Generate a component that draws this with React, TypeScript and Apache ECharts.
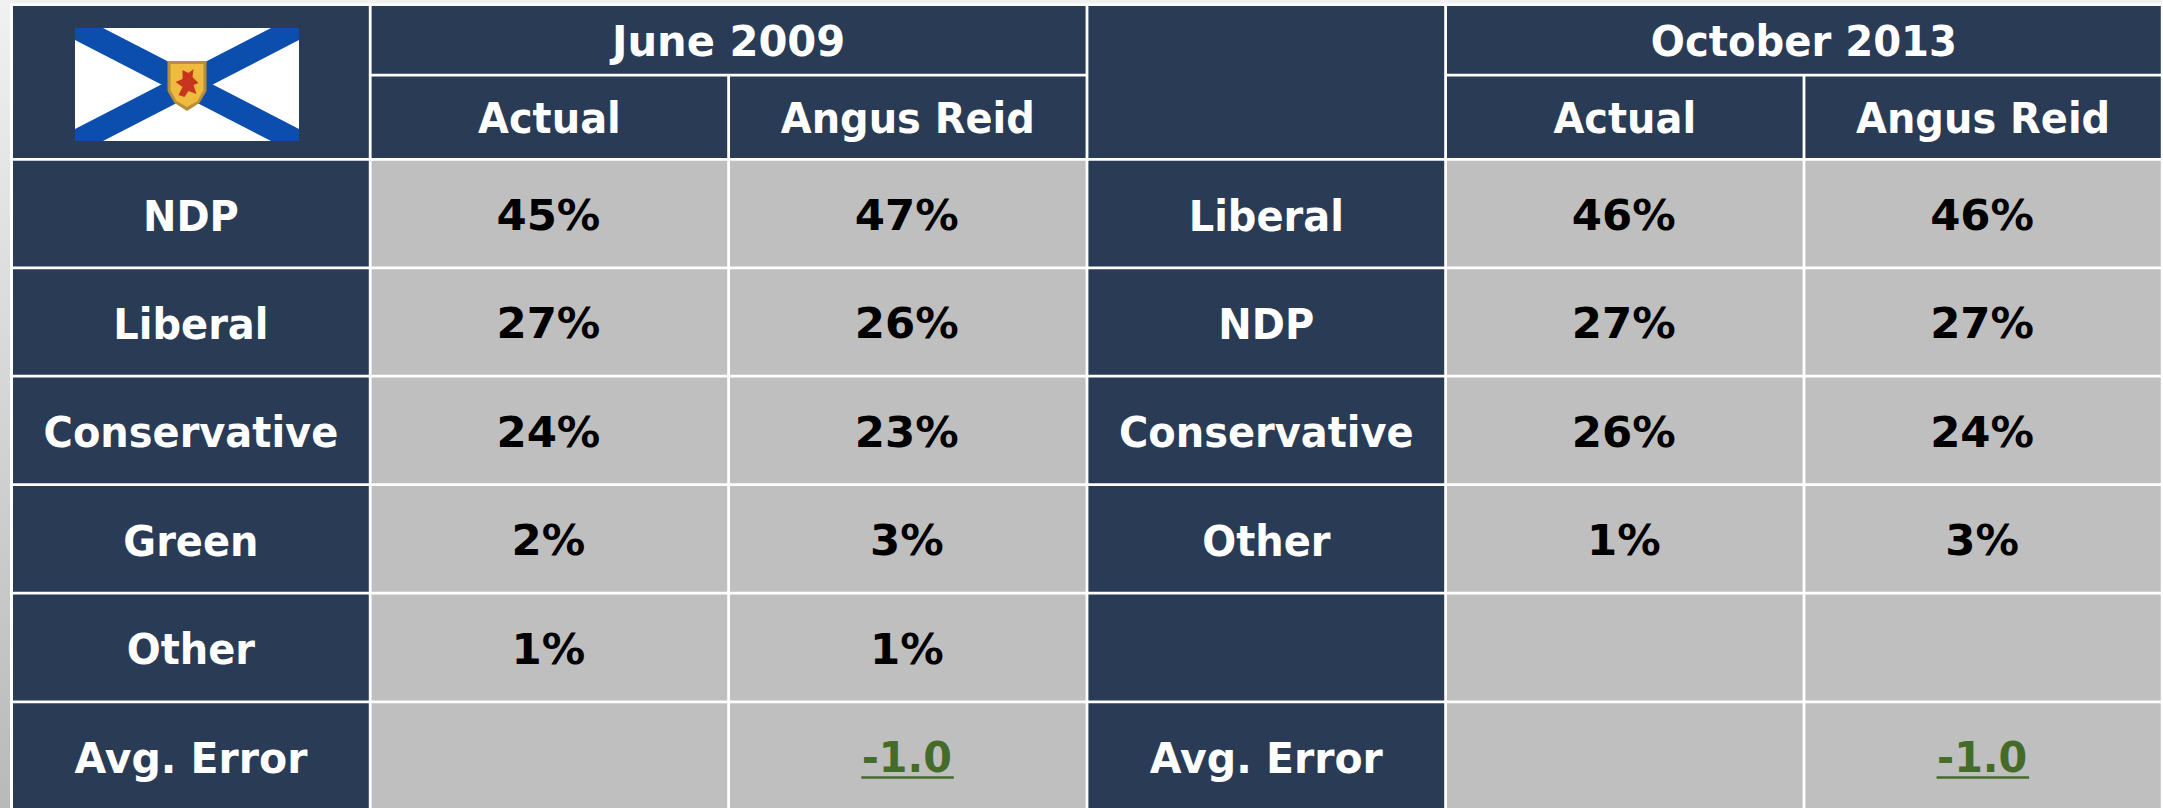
import React, { useEffect, useRef } from "react";
import * as echarts from "echarts";

const columnEdges = [13, 371.6, 730, 1088.4, 1447, 1805.4, 2163.6];
const rowEdges = [6, 76.6, 160.8, 269.2, 377.6, 486, 594.6, 703.2, 811.6];
const W = 2163, H = 808;
const HEAD = "#293b55", GREY = "#bfbfbf", GREEN = "#456b29";
const FONT = "'DejaVu Sans'";

const parties2009 = ["NDP", "Liberal", "Conservative", "Green", "Other", "Avg. Error"];
const actual2009 = ["45%", "27%", "24%", "2%", "1%", ""];
const angus2009 = ["47%", "26%", "23%", "3%", "1%", "-1.0"];
const parties2013 = ["Liberal", "NDP", "Conservative", "Other", "", "Avg. Error"];
const actual2013 = ["46%", "27%", "26%", "1%", "", ""];
const angus2013 = ["46%", "27%", "24%", "3%", "", "-1.0"];

type Cell = [number, number, number, number, string, string];
const cells: Cell[] = [];
cells.push([0, 0, 1, 2, "", "f"], [1, 0, 2, 1, "June 2009", "h"], [1, 1, 1, 1, "Actual", "h"], [2, 1, 1, 1, "Angus Reid", "h"]);
cells.push([3, 0, 1, 2, "", "h"], [4, 0, 2, 1, "October 2013", "h"], [4, 1, 1, 1, "Actual", "h"], [5, 1, 1, 1, "Angus Reid", "h"]);
parties2009.forEach((p, i) => {
  const r = i + 2;
  const kind = (v: string) => (v.startsWith("-") ? "e" : "v");
  cells.push([0, r, 1, 1, p, "h"], [1, r, 1, 1, actual2009[i], kind(actual2009[i])], [2, r, 1, 1, angus2009[i], kind(angus2009[i])]);
  cells.push([3, r, 1, 1, parties2013[i], "h"], [4, r, 1, 1, actual2013[i], kind(actual2013[i])], [5, r, 1, 1, angus2013[i], kind(angus2013[i])]);
});

const labelScale = (t: string) => (t === "June 2009" ? 0.98 : t === "Avg. Error" ? 0.965 : t === "October 2013" ? 0.945 : 0.94);

function flag(cx: number, cy: number) {
  const w = 224, h = 113;
  const X = cx - w / 2, Y = cy - h / 2;
  const blue = "#0c4eae";
  const b = 28;
  const p = (dx: number, dy: number) => [X + dx, Y + dy];
  const s = { x: cx - 19.5, y: cy - 23.5 };
  const q = (dx: number, dy: number) => [s.x + dx, s.y + dy];
  return [
    { type: "rect", shape: { x: X, y: Y, width: w, height: h }, style: { fill: "#ffffff" } },
    { type: "polygon", shape: { points: [p(0, 0), p(b, 0), p(w, h - 12), p(w, h), p(w - b, h), p(0, 12)] }, style: { fill: blue } },
    { type: "polygon", shape: { points: [p(w - b, 0), p(w, 0), p(w, 12), p(b, h), p(0, h), p(0, h - 12)] }, style: { fill: blue } },
    { type: "polygon", shape: { points: [q(0, 0), q(39, 0), q(39, 30), q(32, 42), q(19.5, 50), q(7, 42), q(0, 30)] }, style: { fill: "#b58f3a" } },
    { type: "polygon", shape: { points: [q(3, 3), q(36, 3), q(36, 29), q(30, 40), q(19.5, 46), q(9, 40), q(3, 29)] }, style: { fill: "#eebb3f" } },
    { type: "polygon", shape: { points: [q(15, 9), q(21, 12), q(26, 8), q(25, 16), q(31, 22), q(26, 24), q(29, 33), q(21, 30), q(17, 36), q(11, 34), q(15, 26), q(8, 21), q(15, 18)] }, style: { fill: "#c8351f" } },
  ];
}

export default function App() {
  const ref = useRef<HTMLDivElement>(null);
  useEffect(() => {
    document.body.style.margin = "0";
    const chart = echarts.init(ref.current!, undefined, { renderer: "svg" });
    chart.setOption({
      animation: false,
      backgroundColor: "#ffffff",
      graphic: [
        { type: "rect", z: 0, shape: { x: 0, y: 0, width: W, height: 3.5 }, style: { fill: "#f1f1f1" } },
        {
          type: "rect", z: 0, shape: { x: 0, y: 0, width: 10, height: H },
          style: { fill: new echarts.graphic.LinearGradient(0, 0, 0, 1, [{ offset: 0, color: "#f1f1f1" }, { offset: 1, color: "#b9b9b9" }]) },
        },
      ],
      grid: { left: 0, top: 0, right: 0, bottom: 0 },
      xAxis: { type: "value", min: 0, max: W, show: false },
      yAxis: { type: "value", min: 0, max: H, inverse: true, show: false },
      series: [{
        type: "custom",
        coordinateSystem: "cartesian2d",
        clip: false,
        z: 5,
        data: cells.map((c, i) => [c[0], c[1], c[2], c[3], i]),
        encode: { x: 0, y: 1 },
        renderItem: (_: any, api: any) => {
          const c = cells[api.value(4)];
          const [col, row, cs, rs, text, kind] = c;
          const x0 = api.coord([columnEdges[col], 0])[0];
          const x1 = api.coord([columnEdges[col + cs], 0])[0] - 2.8;
          const y0 = api.coord([0, rowEdges[row]])[1];
          const y1 = api.coord([0, rowEdges[row + rs]])[1] - 2.8;
          const cx = (x0 + x1) / 2, cy = (y0 + y1) / 2;
          const children: any[] = [{ type: "rect", shape: { x: x0, y: y0, width: x1 - x0, height: y1 - y0 }, style: { fill: kind === "h" || kind === "f" ? HEAD : GREY } }];
          if (kind === "f") children.push(...flag(cx - 3.9, cy + 2.5));
          if (text) {
            const label = kind === "h";
            const fill = label ? "#ffffff" : kind === "e" ? GREEN : "#000000";
            const size = label ? 42.5 : 43;
            children.push({
              type: "text",
              x: cx - (label ? 0 : 1), y: cy + (label && row >= 2 ? 2.5 : 1.5),
              scaleX: label ? labelScale(text) : kind === "e" ? 0.96 : 1.01,
              style: { x: 0, y: 0, text, fill, font: `bold ${size}px ${FONT}`, align: "center", verticalAlign: "middle" },
            });
            if (kind === "e") {
              children.push({ type: "rect", shape: { x: cx - 46.5, y: y0 + 73, width: 92.5, height: 2.5 }, style: { fill: GREEN } });
            }
          }
          return { type: "group", children };
        },
      }],
    });
    return () => chart.dispose();
  }, []);
  return <div ref={ref} style={{ width: W, height: H, position: "fixed", left: 0, top: 0 }} />;
}
